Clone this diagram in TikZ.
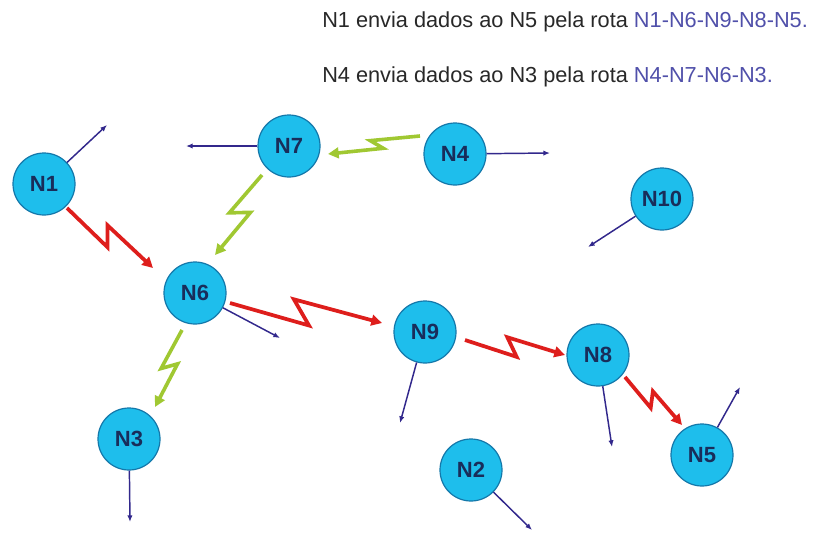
\documentclass[tikz,border=0pt]{standalone}
\usepackage{fontspec}
\setmainfont{Liberation Sans}
\usetikzlibrary{calc,arrows.meta}
\definecolor{nodefill}{RGB}{30,190,236}
\definecolor{nodeedge}{RGB}{20,120,170}
\definecolor{labelc}{RGB}{25,45,90}
\definecolor{redc}{RGB}{222,30,28}
\definecolor{greenc}{RGB}{160,200,50}
\definecolor{bluec}{RGB}{50,40,140}
\definecolor{routec}{RGB}{80,80,170}
\definecolor{textc}{RGB}{40,40,40}
\begin{document}
\begin{tikzpicture}[x=0.75pt,y=-0.75pt,
  netnode/.style={circle,fill=nodefill,draw=nodeedge,line width=0.9pt,minimum size=46.5pt,inner sep=0pt,
    font=\fontsize{16.5}{18}\selectfont\bfseries,text=labelc},
  move/.style={draw=bluec,line width=1.1pt,-{Latex[length=5pt,width=4pt]}},
  bolt/.style={to path={-- ($(\tikztostart)!0.53!(\tikztotarget)!#1!-90:(\tikztotarget)$)
      -- ($(\tikztostart)!0.41!(\tikztotarget)!#1!90:(\tikztotarget)$) -- (\tikztotarget)}},
  redbolt/.style={draw=redc,line width=2.8pt,miter limit=4,-{Triangle[length=8pt,width=8pt]},bolt=#1},
  greenbolt/.style={draw=greenc,line width=2.7pt,miter limit=4,-{Triangle[length=8pt,width=8pt]},bolt=#1},
  toptext/.style={anchor=base west,font=\fontsize{16.3}{18}\selectfont,text=textc,inner sep=0pt}
]
\fill[white] (0,0) rectangle (813,532);
\useasboundingbox (0,0) rectangle (813,532);

% texts
\node[toptext] (t1) at (322,27) {N1 envia dados ao N5 pela rota \textcolor{routec}{N1-N6-N9-N8-N5.}};
\node[toptext] (t2) at (322,82) {N4 envia dados ao N3 pela rota \textcolor{routec}{N4-N7-N6-N3.}};

% nodes
\node[netnode] (n1) at (44,184) {N1};
\node[netnode] (n7) at (289,146) {N7};
\node[netnode] (n4) at (455,154) {N4};
\node[netnode] (n10) at (662,199) {N10};
\node[netnode] (n6) at (195,293) {N6};
\node[netnode] (n9) at (425,332) {N9};
\node[netnode] (n8) at (598,355) {N8};
\node[netnode] (n5) at (702,455) {N5};
\node[netnode] (n2) at (471,470) {N2};
\node[netnode] (n3) at (129,439) {N3};

% free ends of movement arrows
\coordinate (e1) at (107,125);
\coordinate (e7) at (186,146);
\coordinate (e4) at (550,153);
\coordinate (e10) at (588,247);
\coordinate (e6) at (280,338);
\coordinate (e9) at (400,423);
\coordinate (e8) at (612,447);
\coordinate (e5) at (740,387);
\coordinate (e3) at (130,522);
\coordinate (e2) at (532,530);

\draw[move] (n1) -- (e1);
\draw[move] (n7) -- (e7);
\draw[move] (n4) -- (e4);
\draw[move] (n10) -- (e10);
\draw[move] (n6) -- (e6);
\draw[move] (n9) -- (e9);
\draw[move] (n8) -- (e8);
\draw[move] (n5) -- (e5);
\draw[move] (n3) -- (e3);
\draw[move] (n2) -- (e2);

% bolt end points near the nodes
\coordinate (b16s) at ($(n1)+(23,24)$);
\coordinate (b16e) at ($(n6)+(-42,-25)$);
\coordinate (b69s) at ($(n6)+(35,10)$);
\coordinate (b69e) at ($(n9)+(-43,-9)$);
\coordinate (b98s) at ($(n9)+(40,8)$);
\coordinate (b98e) at ($(n8)+(-33,0)$);
\coordinate (b85s) at ($(n8)+(27,22)$);
\coordinate (b85e) at ($(n5)+(-20,-30)$);
\coordinate (b47s) at ($(n4)+(-35,-18)$);
\coordinate (b47e) at ($(n7)+(39,8)$);
\coordinate (b76s) at ($(n7)+(-27,29)$);
\coordinate (b76e) at ($(n6)+(20,-38)$);
\coordinate (b63s) at ($(n6)+(-13,37)$);
\coordinate (b63e) at ($(n3)+(26,-32)$);

% route N1-N6-N9-N8-N5
\draw[redbolt=6.75pt] (b16s) to (b16e);
\draw[redbolt=9pt] (b69s) to (b69e);
\draw[redbolt=6.75pt] (b98s) to (b98e);
\draw[redbolt=5.25pt] (b85s) to (b85e);
% route N4-N7-N6-N3
\draw[greenbolt=3.75pt] (b47s) to (b47e);
\draw[greenbolt=6.75pt] (b76s) to (b76e);
\draw[greenbolt=5.25pt] (b63s) to (b63e);
\end{tikzpicture}
\end{document}
